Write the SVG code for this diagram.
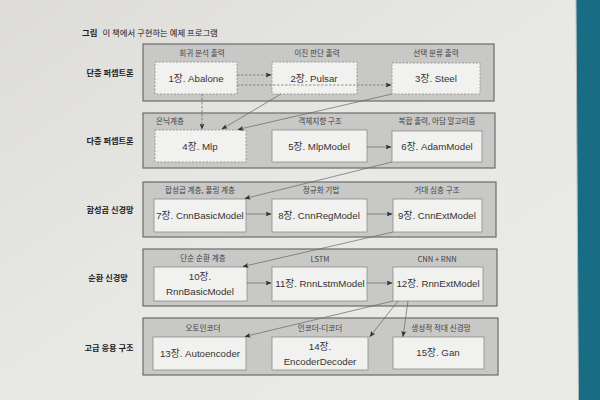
<svg xmlns="http://www.w3.org/2000/svg" width="600" height="400" viewBox="0 0 600 400">
<defs>
<linearGradient id="pg" x1="0" y1="0" x2="1" y2="1">
<stop offset="0" stop-color="#dddcd8"/>
<stop offset="0.5" stop-color="#e8e8e5"/>
<stop offset="1" stop-color="#eaeae7"/>
</linearGradient>
<marker id="ah" viewBox="0 0 10 10" refX="9" refY="5" markerWidth="6" markerHeight="6" orient="auto" markerUnits="userSpaceOnUse">
<path d="M0,1 L10,5 L0,9 L2,5 Z" fill="#333"/>
</marker>
<style>
.panel{fill:#c8c8c7;stroke:#6c6c6c;stroke-width:1.2}
.node{fill:#f1f1ef;stroke:#8c8c8c;stroke-width:0.8}
.dn{stroke-dasharray:2 1.5}
.nt{font-family:"Liberation Sans","Noto Sans CJK KR",sans-serif;font-size:9.7px;fill:#333;text-anchor:middle}
.pl{font-family:"Noto Sans CJK KR","Liberation Sans",sans-serif;font-size:7.6px;fill:#444;text-anchor:middle}
.rl{font-family:"Noto Sans CJK KR",sans-serif;font-size:8.2px;font-weight:bold;fill:#222;text-anchor:middle}
.c{fill:none;stroke:#666;stroke-width:0.7;marker-end:url(#ah)}
.cd{stroke-dasharray:2.5 1.5}
</style>
</defs>
<rect width="600" height="400" fill="url(#pg)"/>
<polygon points="576,0 600,0 600,400 578.5,400" fill="#186c83"/>
<line x1="576" y1="0" x2="578.5" y2="400" stroke="#b8b8b8" stroke-width="1"/>
<text x="82" y="36" font-family="Noto Sans CJK KR,sans-serif" font-size="8.4" fill="#222"><tspan font-weight="bold">그림</tspan><tspan dx="5">이 책에서 구현하는 예제 프로그램</tspan></text>

<g id="rowlabels">
<text class="rl" x="110" y="76">단층 퍼셉트론</text>
<text class="rl" x="110" y="144">다층 퍼셉트론</text>
<text class="rl" x="110" y="213">합성곱 신경망</text>
<text class="rl" x="108" y="281">순환 신경망</text>
<text class="rl" x="109" y="351">고급 응용 구조</text>
</g>

<g id="panels">
<rect class="panel" x="143" y="44" width="351" height="57"/>
<rect class="panel" x="143" y="113" width="352" height="55"/>
<rect class="panel" x="143" y="182" width="353" height="55"/>
<rect class="panel" x="143" y="249" width="354" height="57"/>
<rect class="panel" x="143" y="318" width="355" height="57"/>
<text class="pl" x="202" y="56">회귀 분석 출력</text>
<text class="pl" x="317" y="56">이진 판단 출력</text>
<text class="pl" x="436" y="56">선택 분류 출력</text>
<text class="pl" x="170" y="124">은닉계층</text>
<text class="pl" x="320" y="124">객체지향 구조</text>
<text class="pl" x="437" y="124">복합 출력, 아담 알고리즘</text>
<text class="pl" x="200" y="193">합성곱 계층, 풀링 계층</text>
<text class="pl" x="321" y="193">정규화 기법</text>
<text class="pl" x="437" y="193">거대 심층 구조</text>
<text class="pl" x="203" y="261">단순 순환 계층</text>
<text class="pl" x="320" y="262" font-size="9">LSTM</text>
<text class="pl" x="437" y="262" font-size="9">CNN + RNN</text>
<text class="pl" x="203" y="331">오토인코더</text>
<text class="pl" x="320" y="331">인코더-디코더</text>
<text class="pl" x="441" y="331">생성적 적대 신경망</text>
</g>

<g id="n1"><rect class="node dn" x="155" y="62" width="82" height="32"/><text class="nt" x="196" y="81.5">1장. Abalone</text></g>
<g id="n2"><rect class="node dn" x="272" y="62" width="85" height="32"/><text class="nt" x="314" y="81.5">2장. Pulsar</text></g>
<g id="n3"><rect class="node dn" x="392" y="63" width="88" height="31"/><text class="nt" x="436" y="81.5">3장. Steel</text></g>
<g id="n4"><rect class="node dn" x="155" y="130" width="91" height="32"/><text class="nt" x="200" y="149.5">4장. Mlp</text></g>
<g id="n5"><rect class="node" x="272" y="130" width="95" height="32"/><text class="nt" x="319" y="149.5">5장. MlpModel</text></g>
<g id="n6"><rect class="node" x="392" y="131" width="90" height="31"/><text class="nt" x="437" y="149.5">6장. AdamModel</text></g>
<g id="n7"><rect class="node" x="154" y="199" width="92" height="33"/><text class="nt" x="200" y="218.5">7장. CnnBasicModel</text></g>
<g id="n8"><rect class="node" x="272" y="199" width="95" height="33"/><text class="nt" x="319" y="218.5">8장. CnnRegModel</text></g>
<g id="n9"><rect class="node" x="393" y="199" width="89" height="33"/><text class="nt" x="437" y="218.5">9장. CnnExtModel</text></g>
<g id="n10"><rect class="node" x="154" y="267" width="93" height="34"/><text class="nt" x="200" y="280">10장.</text><text class="nt" x="200" y="295">RnnBasicModel</text></g>
<g id="n11"><rect class="node" x="272" y="267" width="95" height="34"/><text class="nt" x="320" y="287">11장. RnnLstmModel</text></g>
<g id="n12"><rect class="node" x="393" y="267" width="90" height="34"/><text class="nt" x="438" y="287">12장. RnnExtModel</text></g>
<g id="n13"><rect class="node" x="153" y="337" width="93" height="33"/><text class="nt" x="200" y="356.5">13장. Autoencoder</text></g>
<g id="n14"><rect class="node" x="272" y="337" width="96" height="33"/><text class="nt" x="320" y="350">14장.</text><text class="nt" x="320" y="365">EncoderDecoder</text></g>
<g id="n15"><rect class="node" x="393" y="337" width="91" height="32"/><text class="nt" x="438" y="356">15장. Gan</text></g>

<g id="connectors">
<line class="c cd" x1="237" y1="75" x2="271" y2="75"/>
<line class="c cd" x1="237" y1="85" x2="391" y2="85"/>
<line class="c cd" x1="202" y1="94" x2="202" y2="129"/>
<line class="c" x1="281" y1="94" x2="222" y2="129"/>
<line class="c" x1="392" y1="94" x2="238" y2="129.5"/>
<line class="c" x1="367" y1="147" x2="391" y2="147"/>
<line class="c" x1="392" y1="162" x2="245" y2="198.5"/>
<line class="c" x1="246" y1="214" x2="271" y2="214"/>
<line class="c" x1="367" y1="214" x2="392" y2="214"/>
<line class="c" x1="393" y1="232" x2="243" y2="266.5"/>
<line class="c" x1="247" y1="283" x2="271" y2="283"/>
<line class="c" x1="367" y1="283" x2="392" y2="283"/>
<line class="c" x1="393" y1="301" x2="245" y2="336.5"/>
<line class="c" x1="398" y1="301" x2="370" y2="336.5"/>
<line class="c" x1="408" y1="301" x2="403" y2="336.5"/>
</g>
</svg>
